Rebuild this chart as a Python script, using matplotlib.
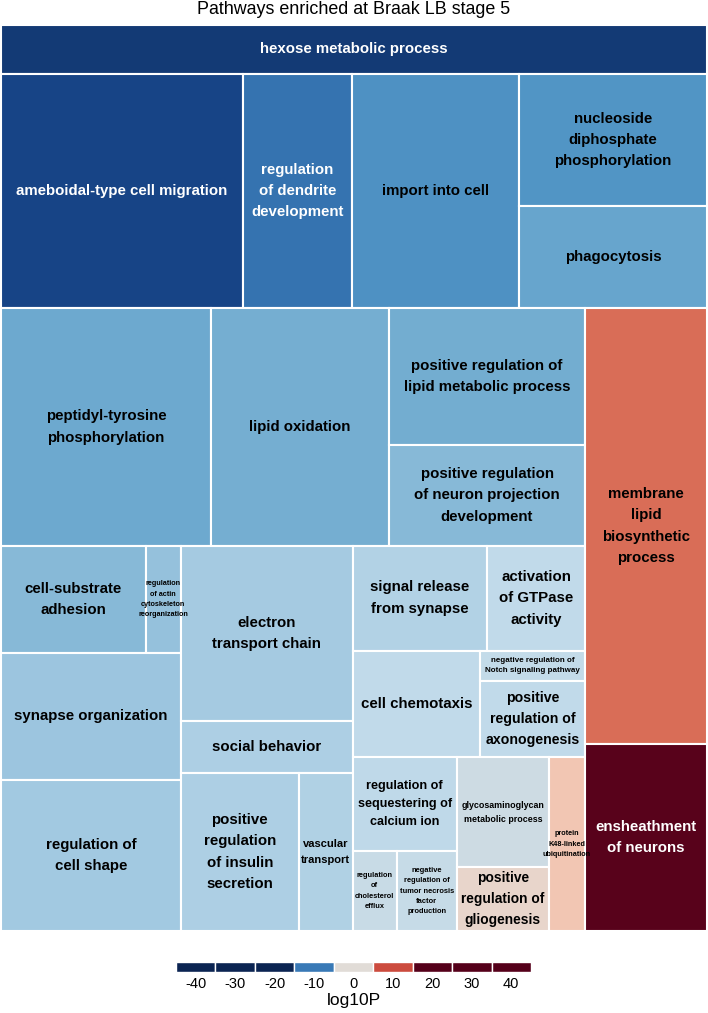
import matplotlib
matplotlib.use("Agg")
import matplotlib.pyplot as plt
import numpy as np
from matplotlib.colors import LinearSegmentedColormap, Normalize, to_rgb
from matplotlib.patches import Rectangle

plt.rcParams["font.family"] = ["Liberation Sans", "DejaVu Sans"]

title = "Pathways enriched at Braak LB stage 5"

# terms in treemap order (pivot-by-size layout uses this order)
terms = [
    "hexose metabolic process",
    "ameboidal-type cell migration",
    "regulation\nof dendrite\ndevelopment",
    "import into cell",
    "nucleoside\ndiphosphate\nphosphorylation",
    "phagocytosis",
    "peptidyl-tyrosine\nphosphorylation",
    "lipid oxidation",
    "positive regulation of\nlipid metabolic process",
    "positive regulation\nof neuron projection\ndevelopment",
    "cell-substrate\nadhesion",
    "regulation\nof actin\ncytoskeleton\nreorganization",
    "synapse organization",
    "regulation of\ncell shape",
    "electron\ntransport chain",
    "social behavior",
    "positive\nregulation\nof insulin\nsecretion",
    "vascular\ntransport",
    "signal release\nfrom synapse",
    "activation\nof GTPase\nactivity",
    "cell chemotaxis",
    "negative regulation of\nNotch signaling pathway",
    "positive\nregulation of\naxonogenesis",
    "regulation of\nsequestering of\ncalcium ion",
    "regulation\nof\ncholesterol\nefflux",
    "negative\nregulation of\ntumor necrosis\nfactor\nproduction",
    "glycosaminoglycan\nmetabolic process",
    "positive\nregulation of\ngliogenesis",
    "protein\nK48-linked\nubiquitination",
    "membrane\nlipid\nbiosynthetic\nprocess",
    "ensheathment\nof neurons",
]

sizes = [
    34594, 56628, 25506, 39078, 24816, 19176,
    49980, 42364, 26852, 19796,
    15515, 3745, 22860, 27180,
    30100, 8944, 18644, 8532,
    14070, 10290, 13600, 3180, 8056,
    9776, 3520, 4800, 10120, 5888, 6264,
    53192, 22814,
]

log10p = [
    -13.0, -12.0, -10.3, -8.5, -8.3, -6.8,
    -6.5, -6.0, -6.1, -5.1,
    -5.1, -4.4, -4.0, -3.7,
    -3.6, -3.1, -3.05, -3.0,
    -2.9, -2.1, -2.0, -1.9, -2.0,
    -2.2, -1.6, -1.7, -1.2, 0.9, 2.3,
    7.3, 14.8,
]

legend_ticks = [-40, -30, -20, -10, 0, 10, 20, 30, 40]

# diverging palette
pal_vals = [-15, -12, -10, -8, -6, -4, -2, 0, 2, 5, 10, 15]
pal_cols = ["#0B2452", "#174587", "#3A7BB7", "#5599C8", "#76AFD1", "#9DC6DF",
            "#C2DBEA", "#E0DCD8", "#F3CDBA", "#E48A6E", "#CD4C3E", "#55001A"]
vmin, vmax = pal_vals[0], pal_vals[-1]
cmap = LinearSegmentedColormap.from_list(
    "log10p", [((v - vmin) / (vmax - vmin), c) for v, c in zip(pal_vals, pal_cols)])
norm = Normalize(vmin, vmax, clip=True)


def pivot_layout(idx, x, y, w, h, out):
    if not idx:
        return
    if len(idx) == 1:
        out[idx[0]] = (x, y, w, h)
        return
    a = [sizes[i] for i in idx]
    total = sum(a)
    p = int(np.argmax(a))
    first, rest = idx[:p], idx[p + 1:]
    a1 = sum(sizes[i] for i in first)
    ap = a[p]
    wide = w > h
    best_k, best_r = 0, np.inf
    for k in range(len(rest) + 1):
        a2 = sum(sizes[i] for i in rest[:k])
        if wide:
            s1 = w * (ap + a2) / total
            s2 = h * ap / (ap + a2)
        else:
            s1 = h * (ap + a2) / total
            s2 = w * ap / (ap + a2)
        r = max(s1 / s2, s2 / s1)
        if r < best_r:
            best_k, best_r = k, r
    second, third = rest[:best_k], rest[best_k:]
    a2 = sum(sizes[i] for i in second)
    if wide:
        w1 = w * a1 / total
        cw = w * (ap + a2) / total
        ph = h * ap / (ap + a2)
        pivot_layout(first, x, y, w1, h, out)
        out[idx[p]] = (x + w1, y, cw, ph)
        pivot_layout(second, x + w1, y + ph, cw, h - ph, out)
        pivot_layout(third, x + w1 + cw, y, w - w1 - cw, h, out)
    else:
        h1 = h * a1 / total
        ch = h * (ap + a2) / total
        pw = w * ap / (ap + a2)
        pivot_layout(first, x, y, w, h1, out)
        out[idx[p]] = (x, y + h1, pw, ch)
        pivot_layout(second, x + pw, y + h1, w - pw, ch, out)
        pivot_layout(third, x, y + h1 + ch, w, h - h1 - ch, out)


fig = plt.figure(figsize=(7.08, 10.13), dpi=100)
ax = fig.add_axes([1 / 708, 82 / 1013, 706 / 708, 906 / 1013])
ax.set_axis_off()
renderer = fig.canvas.get_renderer()
bb = ax.get_window_extent(renderer)
W, H = bb.width, bb.height
ax.set_xlim(0, W)
ax.set_ylim(H, 0)

rects = {}
pivot_layout(list(range(len(terms))), 0, 0, W, H, rects)

base_fs = 10.8
min_fs = 5.2
for i, term in enumerate(terms):
    x, y, w, h = rects[i]
    fc = cmap(norm(log10p[i]))
    ax.add_patch(Rectangle((x, y), w, h, facecolor=fc, edgecolor="white", linewidth=1.5))
    r, g, b = to_rgb(fc)
    lum = 0.2126 * r + 0.7152 * g + 0.0722 * b
    tc = "white" if lum < 0.45 else "black"
    t = ax.text(x + w / 2, y + h / 2, term, ha="center", va="center", multialignment="center",
                fontsize=base_fs, fontweight="bold", color=tc, linespacing=1.67)
    ext = t.get_window_extent(renderer)
    scale = min(1.0, 0.9 * w / ext.width, 0.92 * h / ext.height)
    t.set_fontsize(max(min_fs, base_fs * scale))

fig.text(0.5, 1 - 9 / 1013, title, ha="center", va="center", fontsize=12.9)

# legend
lax = fig.add_axes([176 / 708, (1013 - 972) / 1013, 355 / 708, 10 / 1013])
pos = np.arange(len(legend_ticks))
lax.bar(pos, np.ones(len(pos)), width=1, color=cmap(norm(legend_ticks)),
        edgecolor="white", linewidth=1)
lax.set_xlim(-0.5, len(pos) - 0.5)
lax.set_ylim(0, 1)
lax.set_xticks(pos, labels=[str(v) for v in legend_ticks])
lax.set_yticks([])
lax.tick_params(axis="x", length=0, labelsize=10.5, pad=3.5)
for s in lax.spines.values():
    s.set_visible(False)
lax.set_xlabel("log10P", fontsize=12.5, labelpad=1.5)

fig.savefig("out.png", dpi=100)
